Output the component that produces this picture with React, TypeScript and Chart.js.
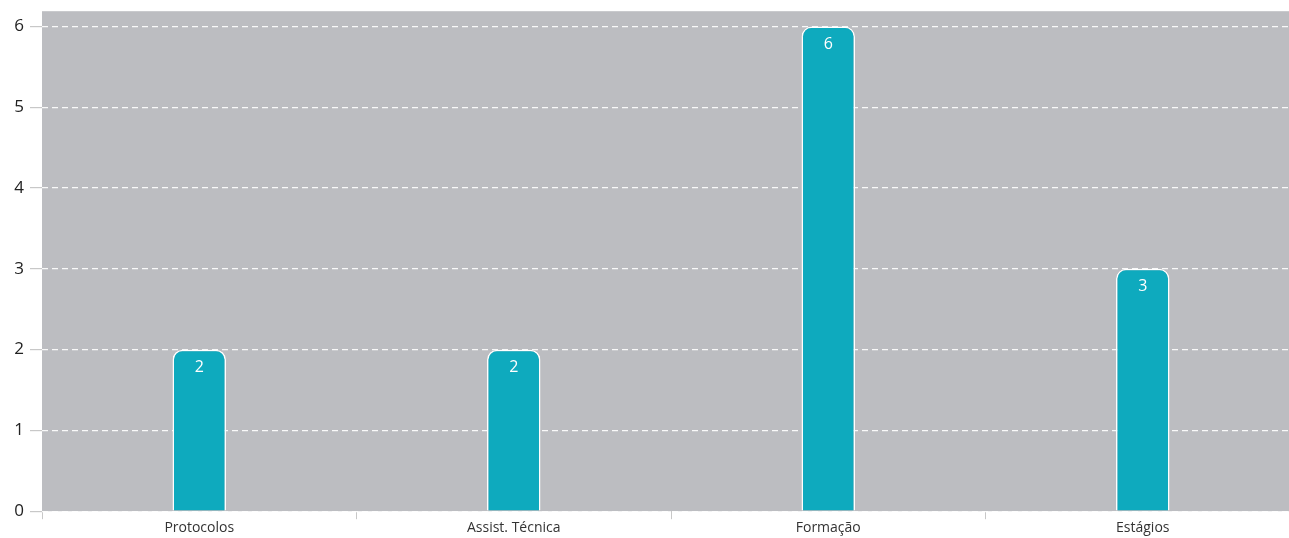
import React, { useEffect, useRef } from "react";
import { Chart, registerables } from "chart.js";

Chart.register(...registerables);

const categories = ["Protocolos", "Assist. Técnica", "Formação", "Estágios"];
const values = [2, 2, 6, 3];
const yTicks = [0, 1, 2, 3, 4, 5, 6];

const PLOT_BG = "#bcbdc1";
const BAR_COLOR = "#0eaabe";
const FONT = "'Open Sans', 'Noto Sans', sans-serif";

const bgPlugin = {
  id: "plotBg",
  beforeDraw(chart: any) {
    const { ctx, chartArea } = chart;
    if (!chartArea) return;
    ctx.save();
    ctx.fillStyle = PLOT_BG;
    ctx.fillRect(chartArea.left, chartArea.top, chartArea.right - chartArea.left, chartArea.bottom - chartArea.top);
    ctx.restore();
  },
};

const labelPlugin = {
  id: "barLabels",
  afterDatasetsDraw(chart: any) {
    const { ctx } = chart;
    const meta = chart.getDatasetMeta(0);
    ctx.save();
    ctx.fillStyle = "#ffffff";
    ctx.font = `16px ${FONT}`;
    ctx.textAlign = "center";
    ctx.textBaseline = "middle";
    meta.data.forEach((el: any, i: number) => {
      ctx.fillText(String(values[i]), el.x, el.y + 18);
    });
    ctx.restore();
  },
};

export default function App() {
  const ref = useRef<HTMLCanvasElement | null>(null);
  useEffect(() => {
    if (!ref.current) return;
    const chart = new Chart(ref.current, {
      type: "bar",
      data: {
        labels: categories,
        datasets: [
          {
            data: values,
            backgroundColor: BAR_COLOR,
            borderColor: "#ffffff",
            borderWidth: 1.5,
            borderSkipped: "bottom",
            borderRadius: { topLeft: 10, topRight: 10, bottomLeft: 0, bottomRight: 0 },
            barPercentage: 0.17,
            categoryPercentage: 1,
          },
        ],
      },
      options: {
        animation: false,
        responsive: true,
        maintainAspectRatio: false,
        layout: { padding: { top: 6, right: 0, left: 0, bottom: 0 } },
        plugins: { legend: { display: false }, tooltip: { enabled: false } },
        scales: {
          x: {
            grid: {
              offset: true,
              drawOnChartArea: false,
              tickColor: "#c8c8c8",
              tickLength: 8,
            },
            border: { display: false },
            ticks: { color: "#333333", font: { family: FONT, size: 14 }, padding: 0 },
          },
          y: {
            min: 0,
            max: 6.19,
            afterBuildTicks: (scale: any) => {
              scale.ticks = yTicks.map((v) => ({ value: v }));
            },
            afterFit: (scale: any) => {
              scale.width = 42;
            },
            grid: {
              color: "rgba(255,255,255,0.9)",
              tickColor: "#c8c8c8",
              tickLength: 12,
              lineWidth: 1.2,
            },
            border: { display: false, dash: [6, 4] },
            ticks: { color: "#222222", font: { family: FONT, size: 17 }, padding: 6 },
          },
        },
      },
      plugins: [bgPlugin, labelPlugin],
    });
    return () => chart.destroy();
  }, []);

  return (
    <div style={{ position: "absolute", left: 0, top: 0, width: 1289, height: 538, overflow: "hidden", background: "#fff" }}>
      <div style={{ width: 1300, height: 541, position: "relative", top: -5 }}>
        <canvas ref={ref} />
      </div>
    </div>
  );
}
